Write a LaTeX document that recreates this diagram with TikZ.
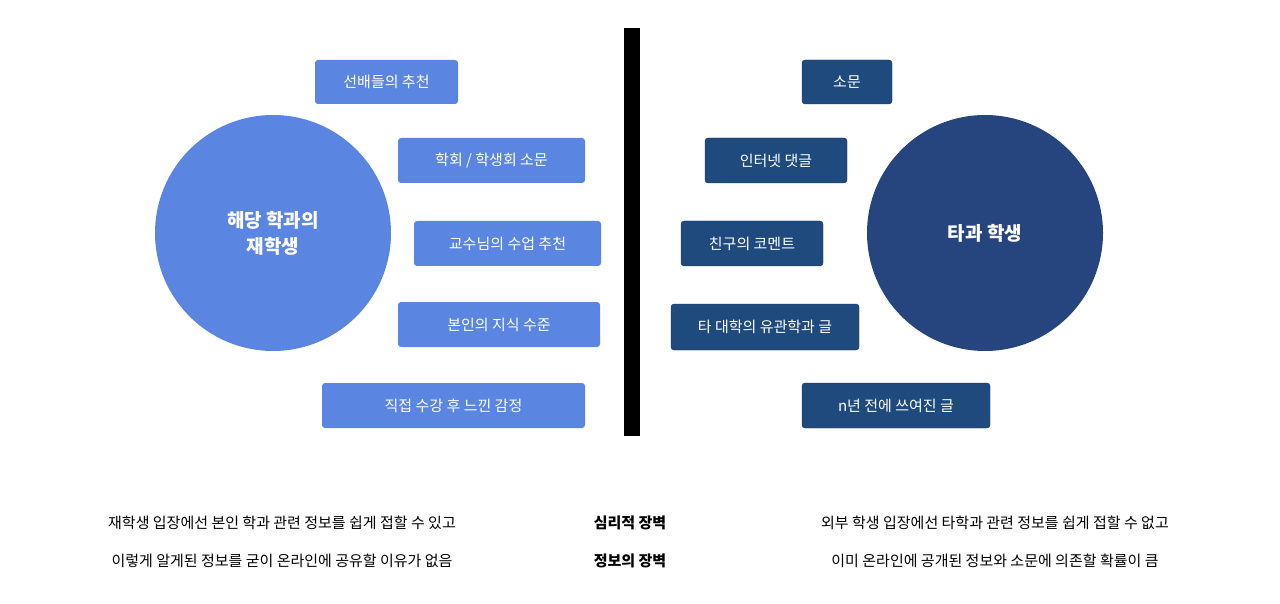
\documentclass[tikz,border=0pt]{standalone}
\usepackage{fontspec}
\setmainfont{Noto Sans CJK KR}
\begin{document}
\begin{tikzpicture}[x=1pt,y=-1pt,
  lbox/.style={fill=lb,rounded corners=3pt,text=white,font=\fontsize{15}{18}\selectfont,inner sep=0pt},
  rbox/.style={fill=rb,draw=rb!70!black,rounded corners=3pt,text=white,font=\fontsize{15}{18}\selectfont,inner sep=0pt},
  note/.style={font=\fontsize{15}{18}\selectfont,text=black}]
\definecolor{lb}{HTML}{5A85E0}
\definecolor{rb}{HTML}{1F4A7E}
\definecolor{rc}{HTML}{26457F}
\useasboundingbox (0,0) rectangle (1280,604);
\fill[black] (624,28) rectangle (640,436);
\node[circle,fill=lb,minimum size=236pt,text=white,font=\bfseries\fontsize{19}{26}\selectfont,align=center] (lc) at (273,233) {해당 학과의\\재학생};
\node[circle,fill=rc,minimum size=236pt,text=white,font=\bfseries\fontsize{19}{26}\selectfont] (rc) at (985,233) {타과 학생};
\node[lbox,minimum width=143pt,minimum height=44pt] (l1) at (386.5,82) {선배들의 추천};
\node[lbox,minimum width=187pt,minimum height=45pt] (l2) at (491.5,160.5) {학회 / 학생회 소문};
\node[lbox,minimum width=187pt,minimum height=45pt] (l3) at (507.5,243.5) {교수님의 수업 추천};
\node[lbox,minimum width=202pt,minimum height=45pt] (l4) at (499,324.5) {본인의 지식 수준};
\node[lbox,minimum width=263pt,minimum height=45pt] (l5) at (453.5,405.5) {직접 수강 후 느낀 감정};
\node[rbox,minimum width=90pt,minimum height=44pt] (r1) at (847,82) {소문};
\node[rbox,minimum width=142pt,minimum height=45pt] (r2) at (776,160.5) {인터넷 댓글};
\node[rbox,minimum width=142pt,minimum height=45pt] (r3) at (752,243.5) {친구의 코멘트};
\node[rbox,minimum width=188pt,minimum height=46pt] (r4) at (765,327) {타 대학의 유관학과 글};
\node[rbox,minimum width=188pt,minimum height=45pt] (r5) at (896,405.5) {n년 전에 쓰여진 글};
\node[note] (t1) at (282,523) {재학생 입장에선 본인 학과 관련 정보를 쉽게 접할 수 있고};
\node[note] (t2) at (282,561) {이렇게 알게된 정보를 굳이 온라인에 공유할 이유가 없음};
\node[note,font=\bfseries\fontsize{15}{18}\selectfont] (m1) at (630,523) {심리적 장벽};
\node[note,font=\bfseries\fontsize{15}{18}\selectfont] (m2) at (630,561) {정보의 장벽};
\node[note] (t3) at (995,523) {외부 학생 입장에선 타학과 관련 정보를 쉽게 접할 수 없고};
\node[note] (t4) at (995,561) {이미 온라인에 공개된 정보와 소문에 의존할 확률이 큼};
\end{tikzpicture}
\end{document}
